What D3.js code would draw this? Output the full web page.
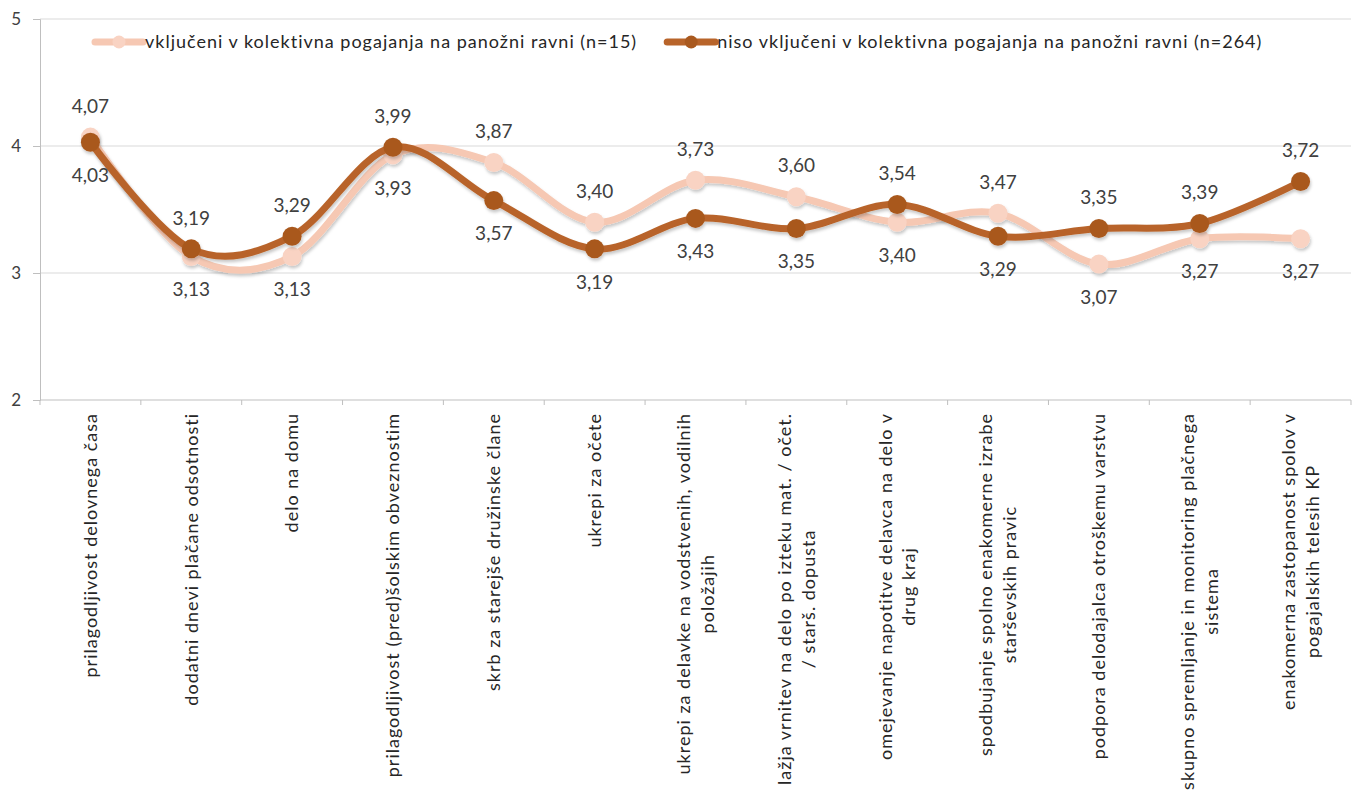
<!DOCTYPE html>
<html lang="sl">
<head>
    <meta charset="UTF-8">
    <title>Kolektivna pogajanja</title>
    <script src="https://d3js.org/d3.v7.min.js"></script>
    <style>
        body { margin: 0; background: #fff; }
        text { font-family: Lato, "Open Sans", sans-serif; }
    </style>
</head>
<body>
<div id="chart"></div>
<script>
    // categories (line breaks as in the original wrapped labels)
    const categories = [
        "prilagodljivost delovnega časa",
        "dodatni dnevi plačane odsotnosti",
        "delo na domu",
        "prilagodljivost (pred)šolskim obveznostim",
        "skrb za starejše družinske člane",
        "ukrepi za očete",
        "ukrepi za delavke na vodstvenih, vodilnih\npoložajih",
        "lažja vrnitev na delo po izteku mat. / očet.\n/ starš. dopusta",
        "omejevanje napotitve delavca na delo v\ndrug kraj",
        "spodbujanje spolno enakomerne izrabe\nstarševskih pravic",
        "podpora delodajalca otroškemu varstvu",
        "skupno spremljanje in monitoring plačnega\nsistema",
        "enakomerna zastopanost spolov v\npogajalskih telesih KP"
    ];
    const seriesNames = [
        "vključeni v kolektivna pogajanja na panožni ravni (n=15)",
        "niso vključeni v kolektivna pogajanja na panožni ravni (n=264)"
    ];
    const valuesIncluded = [4.07, 3.13, 3.13, 3.93, 3.87, 3.40, 3.73, 3.60, 3.40, 3.47, 3.07, 3.27, 3.27];
    const valuesNotIncluded = [4.03, 3.19, 3.29, 3.99, 3.57, 3.19, 3.43, 3.35, 3.54, 3.29, 3.35, 3.39, 3.72];
    const yTicks = [2, 3, 4, 5];

    const width = 1362, height = 799;
    const svg = d3.select("#chart").append("svg")
        .attr("width", width)
        .attr("height", height);

    const defs = svg.append("defs");
    defs.append("filter").attr("id", "shadow")
        .attr("x", "-10%").attr("y", "-10%").attr("width", "120%").attr("height", "140%")
        .append("feDropShadow")
        .attr("dx", 1).attr("dy", 2.5).attr("stdDeviation", 1.6)
        .attr("flood-color", "#000").attr("flood-opacity", 0.22);

    const x = d3.scaleBand().domain(d3.range(categories.length)).range([40, 1351]);
    const y = d3.scaleLinear().domain([2, 5]).range([400, 19]);

    // gridlines
    svg.append("g").selectAll("line")
        .data(yTicks.filter(d => d > 2))
        .join("line")
        .attr("x1", 40).attr("x2", 1351)
        .attr("y1", d => y(d)).attr("y2", d => y(d))
        .attr("stroke", "#d9d9d9").attr("stroke-width", 1);

    // y axis
    const yAxis = svg.append("g")
        .attr("transform", "translate(40,0)")
        .call(d3.axisLeft(y).tickValues(yTicks).tickSize(7).tickPadding(12).tickFormat(d3.format("d")));
    yAxis.select(".domain").attr("stroke", "#bfbfbf");
    yAxis.selectAll(".tick line").attr("stroke", "#bfbfbf");
    yAxis.selectAll(".tick text")
        .attr("fill", "#404040")
        .style("font-size", "17px");

    // x axis: line + ticks at band boundaries
    const xg = svg.append("g");
    xg.append("line")
        .attr("x1", 40).attr("x2", 1351)
        .attr("y1", y(2)).attr("y2", y(2))
        .attr("stroke", "#bfbfbf");
    xg.selectAll("line.tick")
        .data(d3.range(categories.length + 1))
        .join("line")
        .attr("class", "tick")
        .attr("x1", i => 40 + i * x.step()).attr("x2", i => 40 + i * x.step())
        .attr("y1", y(2)).attr("y2", y(2) + 5)
        .attr("stroke", "#bfbfbf");

    // category labels, rotated, top aligned, lines centred
    const labelTop = 413, lineH = 24;
    categories.forEach((c, i) => {
        const lines = c.split("\n");
        const g = svg.append("g")
            .attr("transform", `translate(${x(i) + x.bandwidth() / 2},${labelTop}) rotate(-90)`);
        const texts = lines.map((l, j) => g.append("text")
            .attr("text-anchor", "middle")
            .attr("dy", "0.35em")
            .attr("y", (j - (lines.length - 1) / 2) * lineH)
            .attr("fill", "#262626")
            .style("font-size", "18px")
            .style("letter-spacing", "1px")
            .text(l));
        const maxLen = d3.max(texts, t => t.node().getComputedTextLength());
        texts.forEach(t => t.attr("x", -maxLen / 2));
    });

    const line = d3.line()
        .x((d, i) => x(i) + x.bandwidth() / 2)
        .y(d => y(d))
        .curve(d3.curveCardinal.tension(0));

    const series = [
        {name: seriesNames[0], values: valuesIncluded, other: valuesNotIncluded, stroke: "#f6c8b3", marker: "#f9d3c3", width: 7},
        {name: seriesNames[1], values: valuesNotIncluded, other: valuesIncluded, stroke: "#b8642a", marker: "#a9591f", width: 7}
    ];

    series.forEach(s => {
        const g = svg.append("g").attr("filter", "url(#shadow)");
        g.append("path")
            .attr("d", line(s.values))
            .attr("fill", "none")
            .attr("stroke", s.stroke)
            .attr("stroke-width", s.width)
            .attr("stroke-linecap", "round");
        g.selectAll("circle")
            .data(s.values)
            .join("circle")
            .attr("cx", (d, i) => x(i) + x.bandwidth() / 2)
            .attr("cy", d => y(d))
            .attr("r", 9.5)
            .attr("fill", s.marker);
    });

    // data labels
    const fmt = v => d3.format(".2f")(v).replace(".", ",");
    series.forEach(s => {
        svg.append("g").selectAll("text")
            .data(s.values)
            .join("text")
            .attr("x", (d, i) => x(i) + x.bandwidth() / 2)
            .attr("y", (d, i) => y(d) + (d >= s.other[i] ? -31 : 33))
            .attr("dy", "0.35em")
            .attr("text-anchor", "middle")
            .attr("fill", "#404040")
            .style("font-size", "19px")
            .text(fmt);
    });

    // legend
    const legend = svg.append("g").attr("transform", "translate(95,42)");
    let lx = 0;
    series.forEach(s => {
        const item = legend.append("g").attr("transform", `translate(${lx},0)`);
        item.append("line")
            .attr("x1", 0).attr("x2", 48)
            .attr("stroke", s.stroke).attr("stroke-width", 7)
            .attr("stroke-linecap", "round");
        item.append("circle").attr("cx", 24).attr("r", 6.5).attr("fill", s.marker);
        const t = item.append("text")
            .attr("x", 50).attr("dy", "0.35em")
            .attr("fill", "#262626")
            .style("font-size", "18px")
            .style("letter-spacing", "1px")
            .text(s.name);
        lx += 50 + t.node().getComputedTextLength() + 30;
    });
</script>
</body>
</html>
